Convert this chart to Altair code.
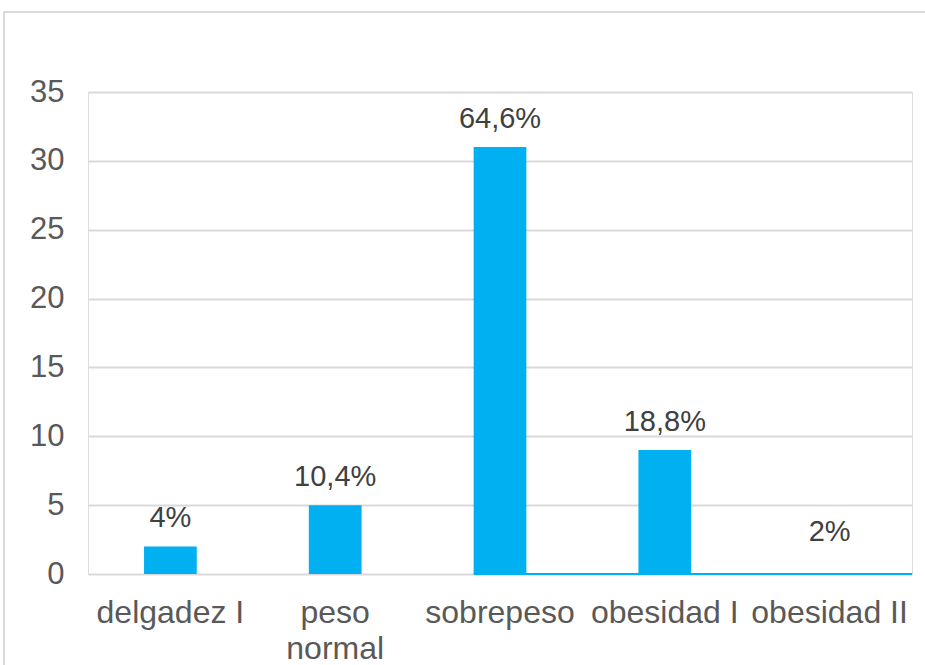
import altair as alt
import pandas as pd

categories = ["delgadez I", "peso normal", "sobrepeso", "obesidad I", "obesidad II"]
counts = [2, 5, 31, 9, 1]
pct_labels = ["4%", "10,4%", "64,6%", "18,8%", "2%"]
bar_shown = [True, True, True, True, False]

df = pd.DataFrame({"cat": categories, "n": counts, "lab": pct_labels, "shown": bar_shown})

FONT = "Liberation Sans"
BLUE = "#00B0F0"
W, H = 824, 482

x_enc = alt.X(
    "cat:N", sort=categories, title=None,
    scale=alt.Scale(paddingInner=0.68, paddingOuter=0.34),
    axis=alt.Axis(
        labelAngle=0, labelFont=FONT, labelFontSize=32, labelColor="#595959",
        labelPadding=23, labelLineHeight=36, ticks=False, domain=False,
        labelExpr="datum.label == 'peso normal' ? ['peso', 'normal'] : datum.label",
        labelBaseline="top", labelLimit=300,
    ),
)
y_enc = alt.Y(
    "n:Q", title=None,
    scale=alt.Scale(domain=[0, 35], nice=False),
    axis=alt.Axis(
        values=[0, 5, 10, 15, 20, 25, 30, 35], labelFont=FONT, labelFontSize=31,
        labelColor="#595959", labelPadding=24, ticks=False, domain=False,
        grid=True, gridColor="#d9d9d9", gridWidth=2,
    ),
)

base = alt.Chart(df)

frame = base.transform_filter(alt.datum.cat == "delgadez I").mark_rect(
    fill=None, stroke="#d9d9d9", strokeWidth=2
).encode(
    x=alt.value(-84), x2=alt.value(W + 40), y=alt.value(-80), y2=alt.value(H + 120)
)

bars = base.mark_bar(color=BLUE).encode(
    x=x_enc, y=y_enc,
    opacity=alt.condition(alt.datum.shown, alt.value(1), alt.value(0)),
)

baseline = base.transform_filter(alt.datum.cat == "sobrepeso").mark_rule(
    color=BLUE, strokeWidth=2
).encode(
    x=alt.X("cat:N", sort=categories, bandPosition=0),
    x2=alt.value(W),
    y=alt.datum(0),
)

labels = base.mark_text(
    font=FONT, fontSize=29, color="#404040", baseline="bottom", dy=-13
).encode(x=alt.X("cat:N", sort=categories), y="n:Q", text="lab:N")

chart = alt.layer(frame, bars, baseline, labels).properties(
    width=W, height=H,
    autosize=alt.AutoSizeParams(type="none"),
    padding={"left": 88, "top": 92, "right": 13, "bottom": 91},
).configure_view(stroke=None).configure(background="white")

chart.save("out.html", embed_options={"renderer": "svg", "actions": False})
